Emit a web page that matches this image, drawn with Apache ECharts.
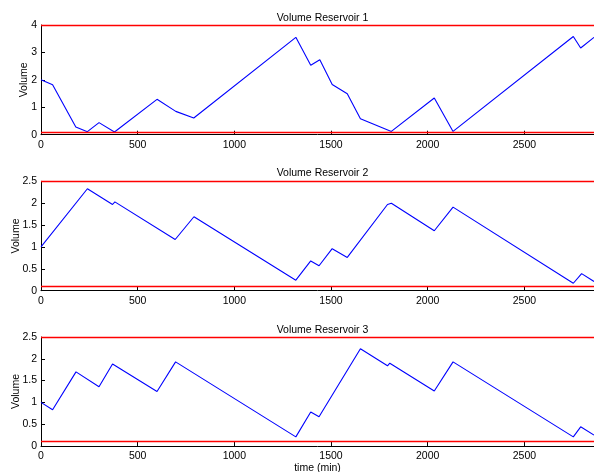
<!DOCTYPE html>
<html><head><meta charset="utf-8">
<script src="https://cdn.jsdelivr.net/npm/echarts@6/dist/echarts.min.js"></script>
<style>html,body{margin:0;padding:0;background:#fff}#c{width:594px;height:472px}</style>
</head><body><div id="c"></div>
<script>
const titles = ['Volume Reservoir 1','Volume Reservoir 2','Volume Reservoir 3'];
const xTicks = [0,500,1000,1500,2000,2500];
const r1Time = [0,60,180,240,300,380,600,697,790,1318,1395,1442,1506,1584,1652,1812,2034,2131,2753,2791,2860];
const r1Vol  = [2.0,1.82,0.28,0.11,0.44,0.10,1.29,0.85,0.61,3.55,2.53,2.73,1.83,1.49,0.58,0.12,1.34,0.12,3.58,3.16,3.55];
const r2Time = [0,240,370,382,694,791,1318,1395,1438,1506,1584,1792,1812,2034,2131,2753,2796,2860];
const r2Vol  = [1.0,2.33,1.97,2.03,1.17,1.69,0.24,0.68,0.57,0.96,0.76,1.97,2.0,1.37,1.91,0.17,0.39,0.21];
const r3Time = [0,60,181,300,370,600,696,1318,1395,1438,1652,1792,1804,2034,2131,2753,2791,2860];
const r3Vol  = [1.0,0.83,1.70,1.36,1.88,1.25,1.93,0.21,0.78,0.67,2.23,1.84,1.90,1.26,1.93,0.21,0.44,0.25];
const maxVol = [4, 2.5, 2.5];
const minVol = [0.1, 0.1, 0.1];
const yMax = [4, 2.5, 2.5];
const yInterval = [1, 0.5, 0.5];

const times = [r1Time, r2Time, r3Time];
const vols = [r1Vol, r2Vol, r3Vol];
const font = 'Liberation Sans, Arial, Helvetica, sans-serif';
const gridTops = [25, 181.3, 337];
const gridH = [109.7, 109.4, 109];
const titleTops = [8, 163, 320];
const yNameGap = [11, 19, 19];

const option = {
  animation: false,
  backgroundColor: '#fff',
  title: titles.map((t,i)=>({text:t, left: 317.5, top: titleTops[i], textAlign:'center',
    textStyle:{fontFamily:font, fontSize:10.5, fontWeight:'normal', color:'#000'}})),
  grid: [0,1,2].map(i=>({left:41, right:0, top:gridTops[i], height:gridH[i], containLabel:false, outerBoundsMode:'none'})),
  xAxis: [0,1,2].map(i=>({
    type:'value', gridIndex:i, min:0, max:2860, interval:500,
    name: i===2 ? 'time (min)' : '', nameLocation:'middle', nameGap:15,
    nameTextStyle:{fontFamily:font, fontSize:10.5, color:'#000'},
    axisLine:{show:true, onZero:false, lineStyle:{color:'#000', width:1}},
    axisTick:{show:true, inside:true, length:4, lineStyle:{color:'#000'}},
    axisLabel:{fontFamily:font, fontSize:10.5, color:'#000', margin:5, showMaxLabel:false,
      formatter: v => xTicks.includes(v) ? String(v) : ''},
    splitLine:{show:false}
  })),
  yAxis: [0,1,2].map(i=>({
    type:'value', gridIndex:i, min:0, max:yMax[i], interval:yInterval[i],
    name:'Volume', nameLocation:'middle', nameGap:yNameGap[i], nameRotate:90, nameMoveOverlap:false,
    nameTextStyle:{fontFamily:font, fontSize:10.5, color:'#000'},
    axisLine:{show:true, lineStyle:{color:'#000', width:1}},
    axisTick:{show:true, inside:true, length:4, lineStyle:{color:'#000'}},
    axisLabel:{fontFamily:font, fontSize:10.5, color:'#000', margin:4},
    splitLine:{show:false}
  })),
  series: [0,1,2].map(i=>({
    type:'line', xAxisIndex:i, yAxisIndex:i, showSymbol:false, symbol:'none',
    data: times[i].map((t,k)=>[t, vols[i][k]]),
    lineStyle:{color:'#0000ff', width:1.1},
    markLine:{silent:true, symbol:'none', label:{show:false}, animation:false,
      lineStyle:{color:'#ff0000', width:1.3, type:'solid'},
      data:[{yAxis:maxVol[i]},{yAxis:minVol[i]}]}
  }))
};
echarts.init(document.getElementById('c')).setOption(option);
</script></body></html>
